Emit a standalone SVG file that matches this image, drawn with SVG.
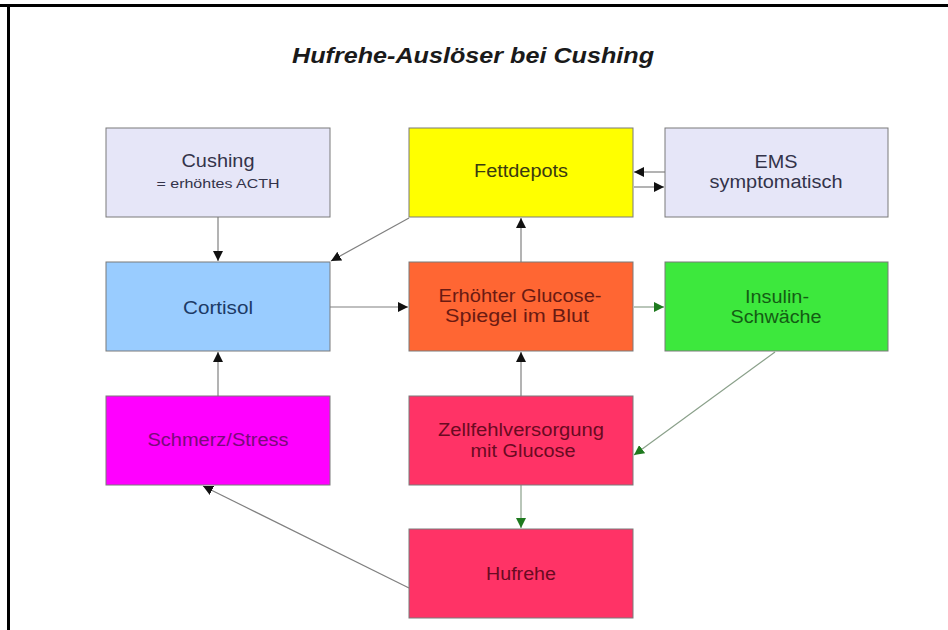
<svg xmlns="http://www.w3.org/2000/svg" width="948" height="630" viewBox="0 0 948 630">
<style>
.box{stroke:#7a7a7a;stroke-width:1}
text{font-family:"Liberation Sans",Arial,sans-serif;text-anchor:middle}
.t{font-size:18px}
.ln{fill:none;stroke:#808080;stroke-width:1.2}
.lg{fill:none;stroke:#8aa08a;stroke-width:1.2}
</style>
<defs>
<marker id="ab" viewBox="0 0 10 10" refX="10" refY="5" markerWidth="10" markerHeight="10" markerUnits="userSpaceOnUse" orient="auto"><path d="M0,0 L10,5 L0,10 z" fill="#111"/></marker>
<marker id="ag" viewBox="0 0 10 10" refX="10" refY="5" markerWidth="10" markerHeight="10" markerUnits="userSpaceOnUse" orient="auto"><path d="M0,0 L10,5 L0,10 z" fill="#1f7a1f"/></marker>
</defs>
<rect x="0" y="0" width="948" height="630" fill="#fff"/>
<rect x="0" y="4" width="948" height="3" fill="#000"/>
<rect x="7" y="4" width="3" height="626" fill="#000"/>
<text x="473" y="63" font-size="22" font-weight="bold" font-style="italic" fill="#1a1a1a" textLength="362" lengthAdjust="spacingAndGlyphs">Hufrehe-Auslöser bei Cushing</text>

<g id="connectors">
<line class="ln" x1="218" y1="217" x2="218" y2="261" marker-end="url(#ab)"/>
<line class="ln" x1="409" y1="218" x2="331" y2="261" marker-end="url(#ab)"/>
<line class="ln" x1="330" y1="307" x2="408" y2="307" marker-end="url(#ab)"/>
<line class="ln" x1="521" y1="262" x2="521" y2="218" marker-end="url(#ab)"/>
<line class="ln" x1="665" y1="172" x2="634" y2="172" marker-end="url(#ab)"/>
<line class="ln" x1="634" y1="187" x2="664" y2="187" marker-end="url(#ab)"/>
<line class="lg" x1="634" y1="307" x2="664" y2="307" marker-end="url(#ag)"/>
<line class="lg" x1="775" y1="352" x2="634" y2="455" marker-end="url(#ag)"/>
<line class="ln" x1="521" y1="396" x2="521" y2="352" marker-end="url(#ab)"/>
<line class="lg" x1="521" y1="485" x2="521" y2="528" marker-end="url(#ag)"/>
<line class="ln" x1="409" y1="588" x2="203" y2="486" marker-end="url(#ab)"/>
<line class="ln" x1="218" y1="396" x2="218" y2="352" marker-end="url(#ab)"/>
</g>

<g id="cushing">
<rect class="box" x="106" y="128" width="224" height="89" fill="#e6e6f8"/>
<text class="t" x="218" y="167" fill="#33334a" textLength="73" lengthAdjust="spacingAndGlyphs">Cushing</text>
<text x="218" y="188" font-size="12" fill="#33334a" textLength="123" lengthAdjust="spacingAndGlyphs">= erhöhtes ACTH</text>
</g>
<g id="fettdepots">
<rect class="box" x="409" y="128" width="224" height="89" fill="#ffff00"/>
<text class="t" x="521" y="177" fill="#3a3a10" textLength="94" lengthAdjust="spacingAndGlyphs">Fettdepots</text>
</g>
<g id="ems">
<rect class="box" x="665" y="128" width="223" height="89" fill="#e6e6f8"/>
<text class="t" x="776" y="168" fill="#33334a" textLength="43" lengthAdjust="spacingAndGlyphs">EMS</text>
<text class="t" x="776" y="188" fill="#33334a" textLength="133" lengthAdjust="spacingAndGlyphs">symptomatisch</text>
</g>
<g id="cortisol">
<rect class="box" x="106" y="262" width="224" height="89" fill="#99ccff"/>
<text class="t" x="218" y="314" fill="#1c3a66" textLength="70" lengthAdjust="spacingAndGlyphs">Cortisol</text>
</g>
<g id="glucose">
<rect class="box" x="409" y="262" width="224" height="89" fill="#ff6633"/>
<text class="t" x="520" y="302" fill="#6a1a12" textLength="163" lengthAdjust="spacingAndGlyphs">Erhöhter Glucose-</text>
<text class="t" x="517" y="322" fill="#6a1a12" textLength="144" lengthAdjust="spacingAndGlyphs">Spiegel im Blut</text>
</g>
<g id="insulin">
<rect class="box" x="665" y="262" width="223" height="89" fill="#3de83d"/>
<text class="t" x="777" y="303" fill="#145c14" textLength="64" lengthAdjust="spacingAndGlyphs">Insulin-</text>
<text class="t" x="776" y="323" fill="#145c14" textLength="91" lengthAdjust="spacingAndGlyphs">Schwäche</text>
</g>
<g id="schmerz">
<rect class="box" x="106" y="396" width="224" height="89" fill="#ff00ff" stroke="#c030c0"/>
<text class="t" x="218" y="446" fill="#7a0a7a" textLength="141" lengthAdjust="spacingAndGlyphs">Schmerz/Stress</text>
</g>
<g id="zellfehl">
<rect class="box" x="409" y="396" width="224" height="89" fill="#ff3366"/>
<text class="t" x="521" y="436" fill="#6a0a22" textLength="166" lengthAdjust="spacingAndGlyphs">Zellfehlversorgung</text>
<text class="t" x="523" y="457" fill="#6a0a22" textLength="105" lengthAdjust="spacingAndGlyphs">mit Glucose</text>
</g>
<g id="hufrehe">
<rect class="box" x="409" y="529" width="224" height="89" fill="#ff3366"/>
<text class="t" x="521" y="580" fill="#6a0a22" textLength="70" lengthAdjust="spacingAndGlyphs">Hufrehe</text>
</g>
</svg>
